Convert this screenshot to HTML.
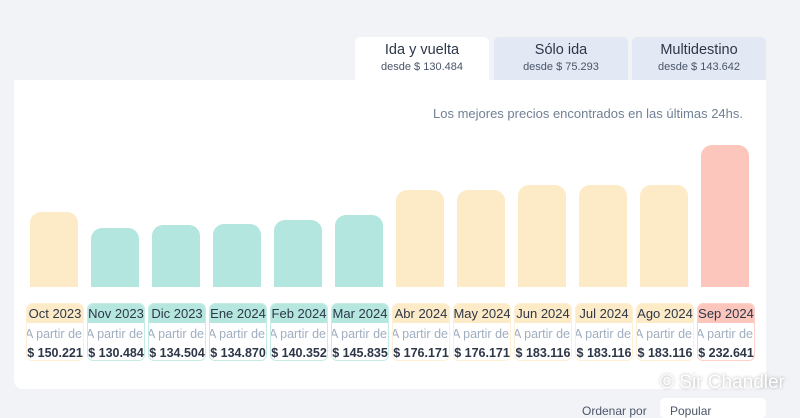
<!DOCTYPE html>
<html><head><meta charset="utf-8"><style>
body{margin:0;width:800px;height:411px;background:#f1f3f7;font-family:"Liberation Sans",sans-serif;position:relative;overflow:hidden}
.tab{position:absolute;top:37px;height:43px;width:134px;border-radius:5px 5px 0 0;background:#e2e9f4;text-align:center;color:#2d3748}
.tab b{display:block;font-weight:normal;font-size:14.5px;margin-top:5px}
.tab span{display:block;font-size:11px;color:#4a5568;margin-top:3px}
.card{position:absolute;left:14px;top:80px;width:752px;height:309px;background:#fff;border-radius:0 0 9px 9px}
.note{position:absolute;left:433px;top:106px;font-size:13px;color:#718096}
.bar{position:absolute;width:48px;bottom:124px;border-radius:11px 11px 0 0}
.lab{position:absolute;top:303px;width:56px;height:56px;border:1.5px solid;border-radius:6px;text-align:center;overflow:hidden}
.lab .h{height:19px;font-size:13px;line-height:20px;color:#2d3748;white-space:nowrap;margin-left:-3px;margin-right:-3px}
.lab .a{font-size:12.5px;color:#a0aec0;margin-top:4px;white-space:nowrap;margin-left:-3px}
.lab .p{font-size:12.5px;font-weight:bold;color:#2d3748;margin-top:5px;white-space:nowrap;margin-left:-4px;margin-right:-4px}
.y .h{background:#fdebc8}.y{border-color:#fdf0d6}.by{background:#fdebc8}
.t .h{background:#b5e7df}.t{border-color:#c5ece5}.bt{background:#b2e6de}
.r .h{background:#fcc6bd}.r{border-color:#fcd2ca}.br{background:#fcc6bd}
</style></head><body>
<div class="tab" style="left:355px;background:#fff"><b>Ida y vuelta</b><span>desde $ 130.484</span></div>
<div class="tab" style="left:494px"><b>Sólo ida</b><span>desde $ 75.293</span></div>
<div class="tab" style="left:632px"><b>Multidestino</b><span>desde $ 143.642</span></div>
<div class="card"></div>
<div class="note">Los mejores precios encontrados en las últimas 24hs.</div>
<div class="bar by" style="left:30px;height:75px"></div>
<div class="bar bt" style="left:91px;height:59px"></div>
<div class="bar bt" style="left:152px;height:62px"></div>
<div class="bar bt" style="left:213px;height:63px"></div>
<div class="bar bt" style="left:274px;height:67px"></div>
<div class="bar bt" style="left:335px;height:72px"></div>
<div class="bar by" style="left:396px;height:97px"></div>
<div class="bar by" style="left:457px;height:97px"></div>
<div class="bar by" style="left:518px;height:102px"></div>
<div class="bar by" style="left:579px;height:102px"></div>
<div class="bar by" style="left:640px;height:102px"></div>
<div class="bar br" style="left:701px;height:142px"></div>
<div class="lab y" style="left:26px"><div class="h">Oct 2023</div><div class="a">A partir de</div><div class="p">$ 150.221</div></div>
<div class="lab t" style="left:87px"><div class="h">Nov 2023</div><div class="a">A partir de</div><div class="p">$ 130.484</div></div>
<div class="lab t" style="left:148px"><div class="h">Dic 2023</div><div class="a">A partir de</div><div class="p">$ 134.504</div></div>
<div class="lab t" style="left:209px"><div class="h">Ene 2024</div><div class="a">A partir de</div><div class="p">$ 134.870</div></div>
<div class="lab t" style="left:270px"><div class="h">Feb 2024</div><div class="a">A partir de</div><div class="p">$ 140.352</div></div>
<div class="lab t" style="left:331px"><div class="h">Mar 2024</div><div class="a">A partir de</div><div class="p">$ 145.835</div></div>
<div class="lab y" style="left:392px"><div class="h">Abr 2024</div><div class="a">A partir de</div><div class="p">$ 176.171</div></div>
<div class="lab y" style="left:453px"><div class="h">May 2024</div><div class="a">A partir de</div><div class="p">$ 176.171</div></div>
<div class="lab y" style="left:514px"><div class="h">Jun 2024</div><div class="a">A partir de</div><div class="p">$ 183.116</div></div>
<div class="lab y" style="left:575px"><div class="h">Jul 2024</div><div class="a">A partir de</div><div class="p">$ 183.116</div></div>
<div class="lab y" style="left:636px"><div class="h">Ago 2024</div><div class="a">A partir de</div><div class="p">$ 183.116</div></div>
<div class="lab r" style="left:697px"><div class="h">Sep 2024</div><div class="a">A partir de</div><div class="p">$ 232.641</div></div>
<div style="position:absolute;left:660px;top:372px;font-size:19px;color:#fff;text-shadow:0 0 3px rgba(0,0,0,.35)">© Sir Chandler</div>
<div style="position:absolute;left:582px;top:404px;font-size:12px;color:#4a5568">Ordenar por</div>
<div style="position:absolute;left:660px;top:398px;width:106px;height:20px;background:#fff;border-radius:5px;font-size:12px;color:#4a5568;padding:6px 0 0 10px;box-sizing:border-box">Popular</div>
</body></html>
